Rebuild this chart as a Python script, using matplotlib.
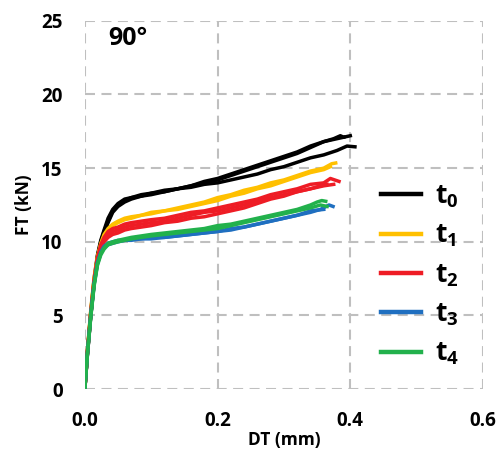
# FT-DT curves at 90 deg, five ageing times t0..t4 (several specimens each)
import matplotlib.pyplot as plt

plt.rcParams['font.family'] = ['Open Sans', 'DejaVu Sans']
plt.rcParams['mathtext.fontset'] = 'custom'
plt.rcParams['mathtext.rm'] = 'Open Sans:bold'
plt.rcParams['mathtext.it'] = 'Open Sans:bold'
plt.rcParams['mathtext.bf'] = 'Open Sans:bold'

labels = ['t$_0$', 't$_1$', 't$_2$', 't$_3$', 't$_4$']
colors = ['#000000', '#ffc000', '#ee1c25', '#1f6fc0', '#22b14c']

# x points shared by all specimens up to 0.2 mm
rise_x = [0, 0.004, 0.009, 0.014, 0.019, 0.024,
          0.029, 0.035, 0.042, 0.05, 0.06, 0.07, 0.085, 0.1, 0.12, 0.14, 0.16, 0.18, 0.2]
mid_x = [0.22, 0.24, 0.26, 0.28, 0.3, 0.32, 0.34]

# t0
t0_x = [
    rise_x + mid_x + [0.36, 0.375, 0.385, 0.39, 0.40],
    rise_x + mid_x + [0.36, 0.38, 0.395, 0.407],
    rise_x + mid_x + [0.36, 0.38, 0.39],
]
t0_y = [
    [0, 2.6, 5.3, 7.5, 9.1, 10.1, 10.8, 11.6, 12.2, 12.6, 12.9, 13.0, 13.2, 13.3, 13.5, 13.6,
     13.8, 14.0, 14.2, 14.5, 14.8, 15.1, 15.4, 15.7, 16.0, 16.4, 16.8, 17.0, 17.2, 17.1, 17.2],
    [0, 2.4, 5.0, 7.2, 8.9, 9.9, 10.6, 11.3, 12.0, 12.4, 12.7, 12.9, 13.1, 13.2, 13.4, 13.6,
     13.7, 13.9, 14.0, 14.2, 14.4, 14.6, 14.9, 15.1, 15.4, 15.7, 15.9, 16.2, 16.5, 16.45],
    [0, 2.5, 5.1, 7.3, 9.0, 10.0, 10.7, 11.4, 12.1, 12.5, 12.8, 13.0, 13.1, 13.3, 13.4, 13.6,
     13.8, 14.1, 14.3, 14.6, 14.9, 15.2, 15.5, 15.8, 16.1, 16.5, 16.8, 17.0, 17.1],
]

# t1
t1_x = [
    rise_x + mid_x + [0.36, 0.372, 0.378],
    rise_x + mid_x + [0.36, 0.37],
]
t1_y = [
    [0, 2.7, 5.4, 7.6, 9.0, 9.9, 10.5, 10.9, 11.2, 11.4, 11.6, 11.7, 11.8, 12.0, 12.1, 12.3,
     12.5, 12.7, 13.0, 13.2, 13.5, 13.7, 14.0, 14.2, 14.5, 14.8, 15.0, 15.3, 15.35],
    [0, 2.5, 5.2, 7.4, 8.9, 9.8, 10.4, 10.8, 11.1, 11.3, 11.5, 11.6, 11.8, 11.9, 12.1, 12.2,
     12.4, 12.6, 12.8, 13.1, 13.3, 13.6, 13.8, 14.1, 14.4, 14.7, 14.9, 15.1],
]

# t2
t2_x = [
    rise_x + mid_x + [0.36, 0.37, 0.383],
    rise_x + mid_x + [0.36, 0.375],
    rise_x + mid_x + [0.355, 0.365],
]
t2_y = [
    [0, 2.6, 5.2, 7.4, 8.9, 9.8, 10.3, 10.7, 10.9, 11.0, 11.2, 11.3, 11.4, 11.5, 11.6, 11.8,
     12.0, 12.1, 12.3, 12.5, 12.7, 12.9, 13.2, 13.4, 13.6, 13.9, 14.0, 14.3, 14.1],
    [0, 2.4, 5.0, 7.2, 8.7, 9.5, 10.0, 10.3, 10.5, 10.6, 10.8, 10.9, 11.0, 11.1, 11.3, 11.4,
     11.6, 11.7, 11.9, 12.1, 12.3, 12.6, 12.9, 13.1, 13.4, 13.6, 13.8, 13.9],
    [0, 2.5, 5.1, 7.3, 8.8, 9.6, 10.1, 10.5, 10.7, 10.8, 11.0, 11.1, 11.2, 11.3, 11.4, 11.6,
     11.8, 12.0, 12.1, 12.3, 12.5, 12.8, 13.0, 13.2, 13.4, 13.6, 13.8, 13.9],
]

# t3
t3_x = [
    rise_x + mid_x + [0.355, 0.368, 0.374],
    rise_x + mid_x + [0.36],
]
t3_y = [
    [0, 2.5, 5.1, 7.2, 8.6, 9.3, 9.7, 9.9, 10.0, 10.1, 10.1, 10.2, 10.2, 10.3, 10.3, 10.4,
     10.5, 10.6, 10.7, 10.9, 11.0, 11.2, 11.4, 11.6, 11.8, 12.0, 12.2, 12.5, 12.4],
    [0, 2.4, 5.0, 7.1, 8.5, 9.2, 9.6, 9.8, 9.9, 10.0, 10.1, 10.1, 10.2, 10.2, 10.3, 10.4,
     10.5, 10.6, 10.7, 10.8, 11.0, 11.2, 11.4, 11.6, 11.8, 12.1, 12.2],
]

# t4
t4_x = [
    rise_x + mid_x + [0.35, 0.357, 0.363],
    rise_x + mid_x + [0.355, 0.365],
]
t4_y = [
    [0, 2.5, 5.0, 7.1, 8.5, 9.2, 9.6, 9.9, 10.0, 10.1, 10.2, 10.3, 10.4, 10.5, 10.6, 10.7,
     10.8, 10.9, 11.1, 11.2, 11.4, 11.6, 11.8, 12.0, 12.2, 12.5, 12.7, 12.8, 12.75],
    [0, 2.4, 4.9, 7.0, 8.4, 9.1, 9.5, 9.8, 9.9, 10.0, 10.1, 10.2, 10.3, 10.4, 10.5, 10.6,
     10.7, 10.8, 10.9, 11.1, 11.3, 11.5, 11.7, 11.9, 12.1, 12.3, 12.5, 12.4],
]

groups_x = [t0_x, t1_x, t2_x, t3_x, t4_x]
groups_y = [t0_y, t1_y, t2_y, t3_y, t4_y]

fig = plt.figure(figsize=(4.99, 4.53), dpi=100)
ax = fig.add_axes([0.170, 0.141, 0.798, 0.813])

for gx, gy, c, lab in zip(groups_x, groups_y, colors, labels):
    for i, (x, y) in enumerate(zip(gx, gy)):
        ax.plot(x, y, color=c, lw=2.5, label=lab if i == 0 else None)

ax.set_xlim(0, 0.6)
ax.set_ylim(0, 25)
ax.set_xticks([0, 0.2, 0.4, 0.6])
ax.set_xticklabels(['0.0', '0.2', '0.4', '0.6'])
ax.set_yticks([0, 5, 10, 15, 20, 25])
ax.grid(True, color='#bfbfbf', ls=(0, (4.8, 3.1)), lw=1.5)
for s in ax.spines.values():
    s.set_visible(False)
ax.tick_params(axis='y', length=0, labelsize=13.5, pad=16)
ax.tick_params(axis='x', length=0, labelsize=13.5, pad=16)
for t in ax.get_xticklabels() + ax.get_yticklabels():
    t.set_fontweight('bold')

ax.set_xlabel('DT (mm)', fontsize=12.5, fontweight='bold', labelpad=0)
ax.set_ylabel('FT (kN)', fontsize=12.5, fontweight='bold', labelpad=6)
ax.text(0.06, 0.951, '90°', transform=ax.transAxes, fontsize=18, fontweight='bold',
        va='center')

leg = ax.legend(loc='center left', bbox_to_anchor=(0.744, 0.31), frameon=False,
                prop={'size': 19, 'weight': 'bold'}, handlelength=1.5,
                labelspacing=0.45, handletextpad=0.55, borderaxespad=0, borderpad=0)
for h in leg.get_lines():
    h.set_linewidth(3.2)

fig.savefig('out.png', dpi=100)
